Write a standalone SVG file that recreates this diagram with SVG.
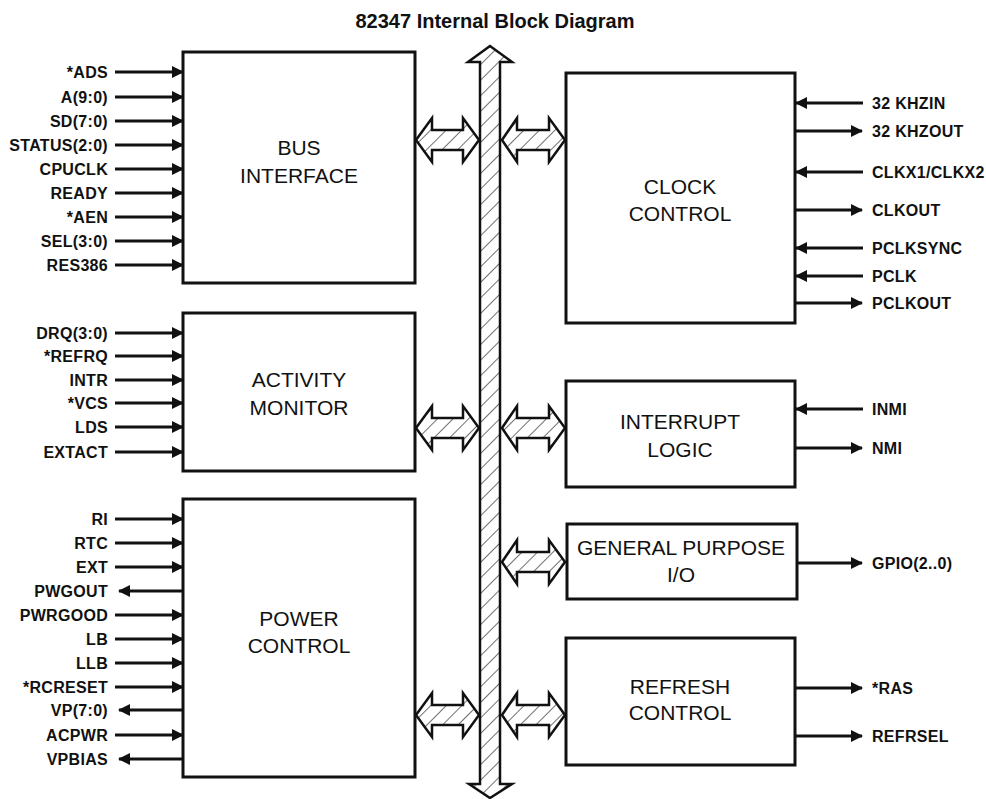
<svg xmlns="http://www.w3.org/2000/svg" width="986" height="799" viewBox="0 0 986 799">
<defs>
<pattern id="hatch" patternUnits="userSpaceOnUse" width="11" height="11" patternTransform="rotate(45)">
<rect width="11" height="11" fill="#fff"/>
<line x1="0" y1="0" x2="0" y2="11" stroke="#111" stroke-width="1.2"/>
</pattern>
<marker id="ah" viewBox="0 0 12 12" refX="11" refY="6" markerWidth="12" markerHeight="12" markerUnits="userSpaceOnUse" orient="auto">
<path d="M0,0 L12,6 L0,12 Z" fill="#111"/>
</marker>
</defs>
<style>
.box{fill:#fff;stroke:#111;stroke-width:3}
.bl{font-family:"Liberation Sans",Arial,sans-serif;font-size:21px;fill:#111;text-anchor:middle}
.sig{font-family:"Liberation Sans",Arial,sans-serif;font-size:16px;font-weight:bold;fill:#111;letter-spacing:0.3px}
.l{text-anchor:end}
.w{stroke:#111;stroke-width:3;fill:none;marker-end:url(#ah)}
.big{fill:url(#hatch);stroke:#111;stroke-width:2.5;stroke-linejoin:miter}
.title{font-family:"Liberation Sans",Arial,sans-serif;font-size:20px;font-weight:bold;fill:#111;text-anchor:middle}
</style>
<rect width="986" height="799" fill="#fff"/>
<text class="title" x="495" y="28">82347 Internal Block Diagram</text>

<g id="bus">
<path class="big" d="M490,46 L468,62 L480,62 L480,784 L469,784 L490,798 L512,784 L500,784 L500,62 L512,62 Z"/>
</g>

<g id="connectors">
<path class="big" d="M416,140 L432,118 L432,130 L463,130 L463,118 L479,140 L463,162 L463,150 L432,150 L432,162 Z"/>
<path class="big" d="M502,140 L517,118 L517,130 L549,130 L549,118 L565,140 L549,162 L549,150 L517,150 L517,162 Z"/>
<path class="big" d="M416,428 L432,406 L432,418 L463,418 L463,406 L479,428 L463,450 L463,438 L432,438 L432,450 Z"/>
<path class="big" d="M502,428 L517,406 L517,418 L549,418 L549,406 L565,428 L549,450 L549,438 L517,438 L517,450 Z"/>
<path class="big" d="M502,562 L517,540 L517,552 L549,552 L549,540 L565,562 L549,584 L549,572 L517,572 L517,584 Z"/>
<path class="big" d="M416,715 L432,693 L432,705 L463,705 L463,693 L479,715 L463,737 L463,725 L432,725 L432,737 Z"/>
<path class="big" d="M502,715 L517,693 L517,705 L549,705 L549,693 L565,715 L549,737 L549,725 L517,725 L517,737 Z"/>

<!-- bus interface inputs -->
<path class="w" d="M115,72 H183"/>
<path class="w" d="M115,97 H183"/>
<path class="w" d="M115,121 H183"/>
<path class="w" d="M115,145 H183"/>
<path class="w" d="M115,169 H183"/>
<path class="w" d="M115,193 H183"/>
<path class="w" d="M115,217 H183"/>
<path class="w" d="M115,241 H183"/>
<path class="w" d="M115,265 H183"/>
<!-- activity monitor -->
<path class="w" d="M115,333 H183"/>
<path class="w" d="M115,356 H183"/>
<path class="w" d="M115,380 H183"/>
<path class="w" d="M115,403 H183"/>
<path class="w" d="M115,427 H183"/>
<path class="w" d="M115,452 H183"/>
<!-- power control -->
<path class="w" d="M115,519 H183"/>
<path class="w" d="M115,543 H183"/>
<path class="w" d="M115,567 H183"/>
<path class="w" d="M183,591 H119"/>
<path class="w" d="M115,615 H183"/>
<path class="w" d="M115,639 H183"/>
<path class="w" d="M115,663 H183"/>
<path class="w" d="M115,687 H183"/>
<path class="w" d="M183,710 H119"/>
<path class="w" d="M115,735 H183"/>
<path class="w" d="M183,759 H119"/>
<!-- clock control -->
<path class="w" d="M863,103 H796"/>
<path class="w" d="M795,131 H862"/>
<path class="w" d="M863,172 H796"/>
<path class="w" d="M795,210 H862"/>
<path class="w" d="M863,248 H796"/>
<path class="w" d="M863,276 H796"/>
<path class="w" d="M795,303 H862"/>
<!-- interrupt -->
<path class="w" d="M863,409 H796"/>
<path class="w" d="M795,448 H862"/>
<!-- gpio -->
<path class="w" d="M797,563 H862"/>
<!-- refresh -->
<path class="w" d="M795,688 H862"/>
<path class="w" d="M795,736 H862"/>
</g>

<g id="bus-interface">
<rect class="box" x="183" y="52" width="232" height="231"/>
<text class="bl" x="299" y="155">BUS</text>
<text class="bl" x="299" y="183">INTERFACE</text>
<text class="sig l" x="108" y="78">*ADS</text>
<text class="sig l" x="108" y="103">A(9:0)</text>
<text class="sig l" x="108" y="127">SD(7:0)</text>
<text class="sig l" x="108" y="151">STATUS(2:0)</text>
<text class="sig l" x="108" y="175">CPUCLK</text>
<text class="sig l" x="108" y="199">READY</text>
<text class="sig l" x="108" y="223">*AEN</text>
<text class="sig l" x="108" y="247">SEL(3:0)</text>
<text class="sig l" x="108" y="271">RES386</text>
</g>

<g id="activity-monitor">
<rect class="box" x="183" y="313" width="232" height="158"/>
<text class="bl" x="299" y="387">ACTIVITY</text>
<text class="bl" x="299" y="415">MONITOR</text>
<text class="sig l" x="108" y="339">DRQ(3:0)</text>
<text class="sig l" x="108" y="362">*REFRQ</text>
<text class="sig l" x="108" y="386">INTR</text>
<text class="sig l" x="108" y="409">*VCS</text>
<text class="sig l" x="108" y="433">LDS</text>
<text class="sig l" x="108" y="458">EXTACT</text>
</g>

<g id="power-control">
<rect class="box" x="183" y="499" width="232" height="278"/>
<text class="bl" x="299" y="626">POWER</text>
<text class="bl" x="299" y="653">CONTROL</text>
<text class="sig l" x="108" y="525">RI</text>
<text class="sig l" x="108" y="549">RTC</text>
<text class="sig l" x="108" y="573">EXT</text>
<text class="sig l" x="108" y="597">PWGOUT</text>
<text class="sig l" x="108" y="621">PWRGOOD</text>
<text class="sig l" x="108" y="645">LB</text>
<text class="sig l" x="108" y="669">LLB</text>
<text class="sig l" x="108" y="693">*RCRESET</text>
<text class="sig l" x="108" y="716">VP(7:0)</text>
<text class="sig l" x="108" y="741">ACPWR</text>
<text class="sig l" x="108" y="765">VPBIAS</text>
</g>

<g id="clock-control">
<rect class="box" x="566" y="73" width="229" height="250"/>
<text class="bl" x="680" y="194">CLOCK</text>
<text class="bl" x="680" y="221">CONTROL</text>
<text class="sig" x="872" y="109">32 KHZIN</text>
<text class="sig" x="872" y="137">32 KHZOUT</text>
<text class="sig" x="872" y="178">CLKX1/CLKX2</text>
<text class="sig" x="872" y="216">CLKOUT</text>
<text class="sig" x="872" y="254">PCLKSYNC</text>
<text class="sig" x="872" y="282">PCLK</text>
<text class="sig" x="872" y="309">PCLKOUT</text>
</g>

<g id="interrupt-logic">
<rect class="box" x="566" y="381" width="229" height="106"/>
<text class="bl" x="680" y="429">INTERRUPT</text>
<text class="bl" x="680" y="457">LOGIC</text>
<text class="sig" x="872" y="415">INMI</text>
<text class="sig" x="872" y="454">NMI</text>
</g>

<g id="gpio">
<rect class="box" x="567" y="524" width="230" height="75"/>
<text class="bl" x="681" y="555">GENERAL PURPOSE</text>
<text class="bl" x="681" y="582">I/O</text>
<text class="sig" x="872" y="569">GPIO(2..0)</text>
</g>

<g id="refresh-control">
<rect class="box" x="566" y="638" width="229" height="127"/>
<text class="bl" x="680" y="694">REFRESH</text>
<text class="bl" x="680" y="720">CONTROL</text>
<text class="sig" x="872" y="694">*RAS</text>
<text class="sig" x="872" y="742">REFRSEL</text>
</g>
</svg>
